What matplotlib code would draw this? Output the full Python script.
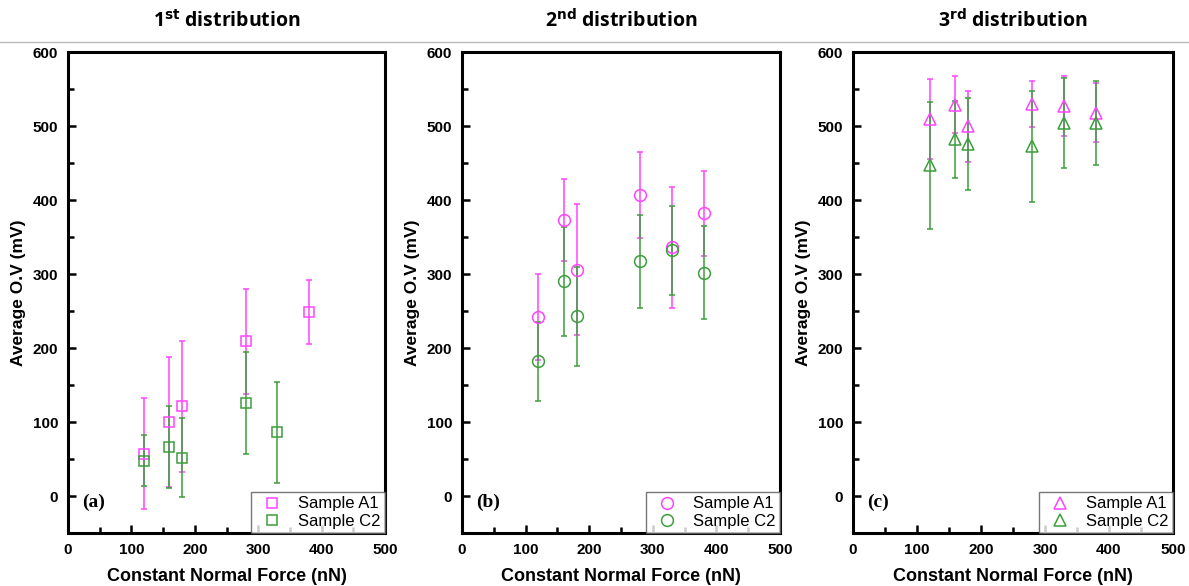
import numpy as np
from matplotlib import pyplot as plt
from matplotlib.lines import Line2D
from matplotlib.ticker import MultipleLocator

# DATA
force = [120, 160, 180, 280, 330, 380]

# 1st distribution (no A1 point at 330, no C2 point at 380)
a_force_a1 = [120, 160, 180, 280, 380]
a_a1 = [57, 100, 121, 209, 249]
a_a1_err = [75, 88, 88, 71, 43]
a_force_c2 = [120, 160, 180, 280, 330]
a_c2 = [48, 66, 52, 126, 86]
a_c2_err = [34, 55, 53, 69, 68]

# 2nd distribution
b_a1 = [242, 373, 306, 407, 336, 382]
b_a1_err = [58, 55, 88, 58, 82, 57]
b_c2 = [182, 290, 243, 317, 332, 302]
b_c2_err = [53, 74, 67, 63, 60, 63]

# 3rd distribution
c_a1 = [509, 529, 500, 530, 527, 518]
c_a1_err = [54, 38, 48, 31, 40, 40]
c_c2 = [447, 482, 476, 473, 504, 504]
c_c2_err = [86, 52, 62, 75, 61, 57]

titles = ['1$^{\\mathbf{st}}$ distribution', '2$^{\\mathbf{nd}}$ distribution',
          '3$^{\\mathbf{rd}}$ distribution']
panel_labels = ['(a)', '(b)', '(c)']
markers = ['s', 'o', '^']
names = ['Sample A1', 'Sample C2']

PINK = '#ff44ff'
GREEN = '#3c9e3c'

plt.rcParams['font.family'] = 'Liberation Sans'
plt.rcParams['font.weight'] = 'bold'

fig = plt.figure(figsize=(11.89, 5.86), dpi=100)

lefts = [0.0572, 0.3886, 0.7174]
widths = [0.2666, 0.2675, 0.2691]
bottom, height = 0.0904, 0.8208

series = [
    (a_force_a1, a_a1, a_a1_err, a_force_c2, a_c2, a_c2_err),
    (force, b_a1, b_a1_err, force, b_c2, b_c2_err),
    (force, c_a1, c_a1_err, force, c_c2, c_c2_err),
]

for i in range(3):
    ax = fig.add_axes([lefts[i], bottom, widths[i], height])
    xa, ya, ea, xc, yc, ec = series[i]
    ms = 7.5 if markers[i] == 's' else 8.5
    for x, y, e, col in [(xa, ya, ea, PINK), (xc, yc, ec, GREEN)]:
        ax.errorbar(x, y, yerr=e, fmt=markers[i], color=col, mfc='none', mec=col,
                    ms=ms, mew=1.1, elinewidth=1.1, capsize=2.5, capthick=1.1)

    ax.set_xlim(0, 500)
    ax.set_ylim(-50, 600)
    ax.xaxis.set_major_locator(MultipleLocator(100))
    ax.xaxis.set_minor_locator(MultipleLocator(50))
    ax.yaxis.set_major_locator(MultipleLocator(100))
    ax.yaxis.set_minor_locator(MultipleLocator(50))
    ax.tick_params(which='both', direction='in', width=1.8, top=False, right=False,
                   labelsize=11)
    ax.tick_params(which='major', length=6, pad=7)
    ax.tick_params(which='minor', length=4.5)
    for s in ax.spines.values():
        s.set_linewidth(2.2)

    ax.set_xlabel('Constant Normal Force (nN)', fontsize=13, fontweight='bold', labelpad=8)
    ax.set_ylabel('Average O.V (mV)', fontsize=12.5, fontweight='bold', labelpad=5)

    ax.text(0.045, 0.055, panel_labels[i], transform=ax.transAxes, fontsize=14,
            fontweight='bold', family='Liberation Serif')

    handles = [Line2D([], [], ls='none', marker=markers[i], ms=ms, mfc='none',
                      mec=c, mew=1.1) for c in (PINK, GREEN)]
    leg = ax.legend(handles, names, loc='lower right', borderaxespad=0, fancybox=False,
                    frameon=True, prop={'family': 'Liberation Sans', 'size': 12,
                                        'weight': 'normal'},
                    handletextpad=0.6, borderpad=0.25, labelspacing=0.15,
                    handlelength=2.0)
    leg.get_frame().set_edgecolor('#555555')
    leg.get_frame().set_linewidth(1)

    fig.text(lefts[i] + widths[i] / 2, 0.965, titles[i], ha='center', va='center',
             fontsize=14, fontweight='bold', family='Open Sans')

fig.add_artist(Line2D([0, 1], [0.929, 0.929], color='#bbbbbb', lw=1))

fig.savefig('out.png', dpi=100)
